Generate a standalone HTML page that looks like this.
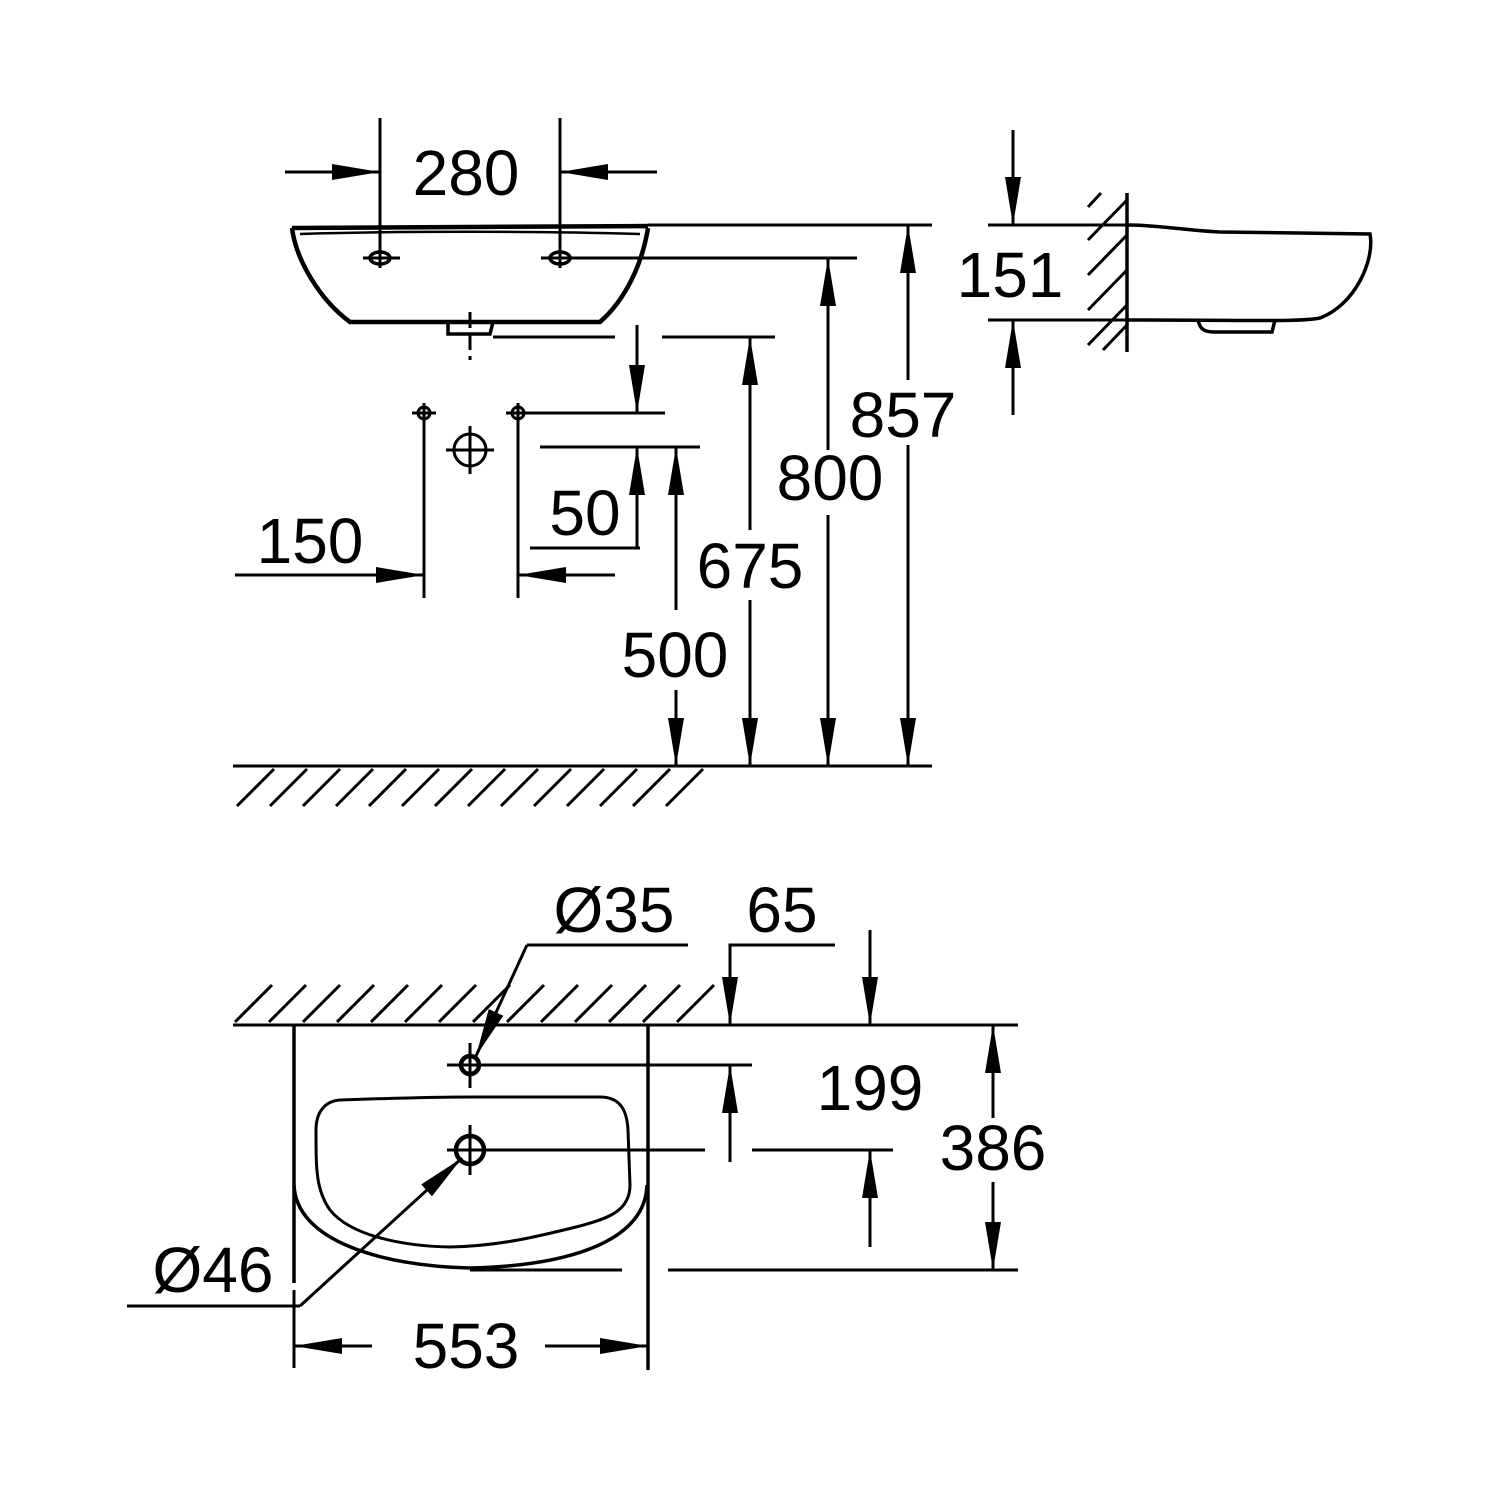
<!DOCTYPE html>
<html><head><meta charset="utf-8"><style>html,body{margin:0;padding:0;background:#fff}svg{display:block}</style></head>
<body>
<svg width="1500" height="1500" viewBox="0 0 1500 1500" xmlns="http://www.w3.org/2000/svg">
<defs>
<marker id="a" viewBox="0 0 48 16" refX="48" refY="8" markerWidth="48" markerHeight="16" markerUnits="userSpaceOnUse" orient="auto"><path d="M0,0L48,8L0,16Z" fill="#000"/></marker>
</defs>
<g fill="none" stroke="#000" stroke-width="3">
<!-- 280 -->
<line x1="285" y1="172" x2="380" y2="172" marker-end="url(#a)"/>
<line x1="657" y1="172" x2="560" y2="172" marker-end="url(#a)"/>
<line x1="380" y1="118" x2="380" y2="268"/>
<line x1="560" y1="118" x2="560" y2="268"/>
<!-- front sink -->
<path d="M292,228 L648,226 M292,228 C296,260 320,300 350,322 L600,322 C625,300 642,265 648,228" stroke-width="4.5"/>
<path d="M300,234 C400,231 540,231 640,234" stroke-width="2.5"/>
<ellipse cx="380" cy="258" rx="10" ry="6" stroke-width="3.5"/>
<ellipse cx="560" cy="258" rx="10" ry="6" stroke-width="3.5"/>
<line x1="363" y1="258" x2="400" y2="258"/>
<line x1="541" y1="258" x2="857" y2="258"/>
<path d="M448,322 L448,334 L490,334 L493,322" stroke-width="3.5"/>
<line x1="470" y1="312" x2="470" y2="360" stroke-dasharray="16,6"/>
<line x1="648" y1="225" x2="932" y2="225"/>
<line x1="493" y1="337" x2="615" y2="337"/>
<line x1="662" y1="337" x2="775" y2="337"/>
<!-- holes -->
<circle cx="424" cy="413" r="6"/><line x1="412" y1="413" x2="436" y2="413"/><line x1="424" y1="403" x2="424" y2="598"/>
<circle cx="518" cy="413" r="6"/><line x1="506" y1="413" x2="665" y2="413"/><line x1="518" y1="403" x2="518" y2="598"/>
<circle cx="470" cy="450" r="16"/><line x1="446" y1="450" x2="494" y2="450"/><line x1="470" y1="426" x2="470" y2="474"/>
<line x1="540" y1="447" x2="700" y2="447"/>
<!-- 150 -->
<line x1="235" y1="575" x2="424" y2="575" marker-end="url(#a)"/>
<line x1="615" y1="575" x2="518" y2="575" marker-end="url(#a)"/>
<!-- 50 -->
<line x1="637" y1="325" x2="637" y2="413" marker-end="url(#a)"/>
<line x1="637" y1="548" x2="637" y2="447" marker-end="url(#a)"/>
<line x1="530" y1="548" x2="640" y2="548"/>
<!-- 500 -->
<line x1="676" y1="610" x2="676" y2="447" marker-end="url(#a)"/>
<line x1="676" y1="690" x2="676" y2="766" marker-end="url(#a)"/>
<!-- 675 -->
<line x1="750" y1="530" x2="750" y2="337" marker-end="url(#a)"/>
<line x1="750" y1="600" x2="750" y2="766" marker-end="url(#a)"/>
<!-- 800 -->
<line x1="828" y1="450" x2="828" y2="258" marker-end="url(#a)"/>
<line x1="828" y1="515" x2="828" y2="766" marker-end="url(#a)"/>
<!-- 857 -->
<line x1="908" y1="380" x2="908" y2="225" marker-end="url(#a)"/>
<line x1="908" y1="445" x2="908" y2="766" marker-end="url(#a)"/>
<!-- floor -->
<line x1="233" y1="766" x2="932" y2="766"/>
<path d="M237,806L274,769M270,806L307,769M303,806L340,769M336,806L373,769M369,806L406,769M402,806L439,769M435,806L472,769M468,806L505,769M501,806L538,769M534,806L571,769M567,806L604,769M600,806L637,769M633,806L670,769M666,806L703,769"/>
<!-- side view -->
<line x1="1127" y1="193" x2="1127" y2="352" stroke-width="3.5"/>
<path d="M1088,207L1101,193M1088,240L1127,200M1088,275L1127,235M1088,310L1127,270M1088,345L1127,305M1103,350L1127,325"/>
<path d="M1127,225 C1160,225 1180,230 1220,232 L1370,234 C1375,260 1355,305 1320,318 C1300,322 1260,320 1127,320" stroke-width="3.5"/>
<path d="M1198,320 C1200,330 1205,332 1215,332 L1272,332 L1275,320" stroke-width="3.5"/>
<line x1="988" y1="225" x2="1127" y2="225"/>
<line x1="988" y1="320" x2="1127" y2="320"/>
<line x1="1013" y1="130" x2="1013" y2="225" marker-end="url(#a)"/>
<line x1="1013" y1="415" x2="1013" y2="320" marker-end="url(#a)"/>
<!-- bottom plan -->
<line x1="233" y1="1025" x2="1018" y2="1025"/>
<path d="M235,1022L272,985M269,1022L306,985M303,1022L340,985M337,1022L374,985M371,1022L408,985M405,1022L442,985M439,1022L476,985M473,1022L510,985M507,1022L544,985M541,1022L578,985M575,1022L612,985M609,1022L646,985M643,1022L680,985M677,1022L714,985"/>
<line x1="294" y1="1025" x2="294" y2="1283" stroke-width="3.5"/>
<line x1="648" y1="1025" x2="648" y2="1370" stroke-width="3.5"/>
<path d="M294,1185 C296,1240 380,1266 470,1268 C560,1266 645,1245 647,1185" stroke-width="3.5"/>
<path d="M340,1100 C400,1098 440,1097 470,1097 L600,1097 C620,1097 627,1110 628,1130 L630,1185 C630,1210 610,1218 580,1226 C540,1236 500,1246 450,1247 C400,1246 350,1235 330,1210 C316,1190 316,1170 316,1130 C316,1112 325,1101 340,1100Z" stroke-width="3"/>
<line x1="470" y1="1270" x2="622" y2="1270"/>
<line x1="668" y1="1270" x2="1018" y2="1270"/>
<circle cx="470" cy="1065" r="9" stroke-width="4.5"/><line x1="447" y1="1065" x2="752" y2="1065"/><line x1="470" y1="1043" x2="470" y2="1088"/>
<circle cx="470" cy="1150" r="14" stroke-width="4.5"/><line x1="447" y1="1150" x2="705" y2="1150"/><line x1="470" y1="1125" x2="470" y2="1175"/>
<line x1="752" y1="1150" x2="893" y2="1150"/>
<!-- leaders -->
<line x1="688" y1="945" x2="527" y2="945"/>
<line x1="527" y1="945" x2="476" y2="1056" marker-end="url(#a)"/>
<line x1="127" y1="1306" x2="300" y2="1306"/>
<line x1="300" y1="1306" x2="462" y2="1158" marker-end="url(#a)"/>
<!-- 65 -->
<polyline points="835,945 730,945 730,980"/>
<line x1="730" y1="975" x2="730" y2="1025" marker-end="url(#a)"/>
<line x1="870" y1="930" x2="870" y2="1025" marker-end="url(#a)"/>
<!-- 199 -->
<line x1="730" y1="1162" x2="730" y2="1065" marker-end="url(#a)"/>
<line x1="870" y1="1247" x2="870" y2="1150" marker-end="url(#a)"/>
<!-- 386 -->
<line x1="993" y1="1118" x2="993" y2="1025" marker-end="url(#a)"/>
<line x1="993" y1="1182" x2="993" y2="1270" marker-end="url(#a)"/>
<!-- 553 -->
<line x1="294" y1="1290" x2="294" y2="1368"/>
<line x1="372" y1="1346" x2="294" y2="1346" marker-end="url(#a)"/>
<line x1="545" y1="1346" x2="648" y2="1346" marker-end="url(#a)"/>
</g>
<g font-family="Liberation Sans, sans-serif" font-size="64" fill="#000" text-anchor="middle">
<text x="466" y="195">280</text>
<text x="1010" y="297">151</text>
<text x="903" y="437">857</text>
<text x="830" y="500">800</text>
<text x="750" y="588">675</text>
<text x="675" y="677">500</text>
<text x="585" y="535">50</text>
<text x="310" y="563">150</text>
<text x="614" y="932">Ø35</text>
<text x="782" y="932">65</text>
<text x="870" y="1110">199</text>
<text x="993" y="1170">386</text>
<text x="213" y="1292">Ø46</text>
<text x="466" y="1368">553</text>
</g>
</svg>
</body></html>
